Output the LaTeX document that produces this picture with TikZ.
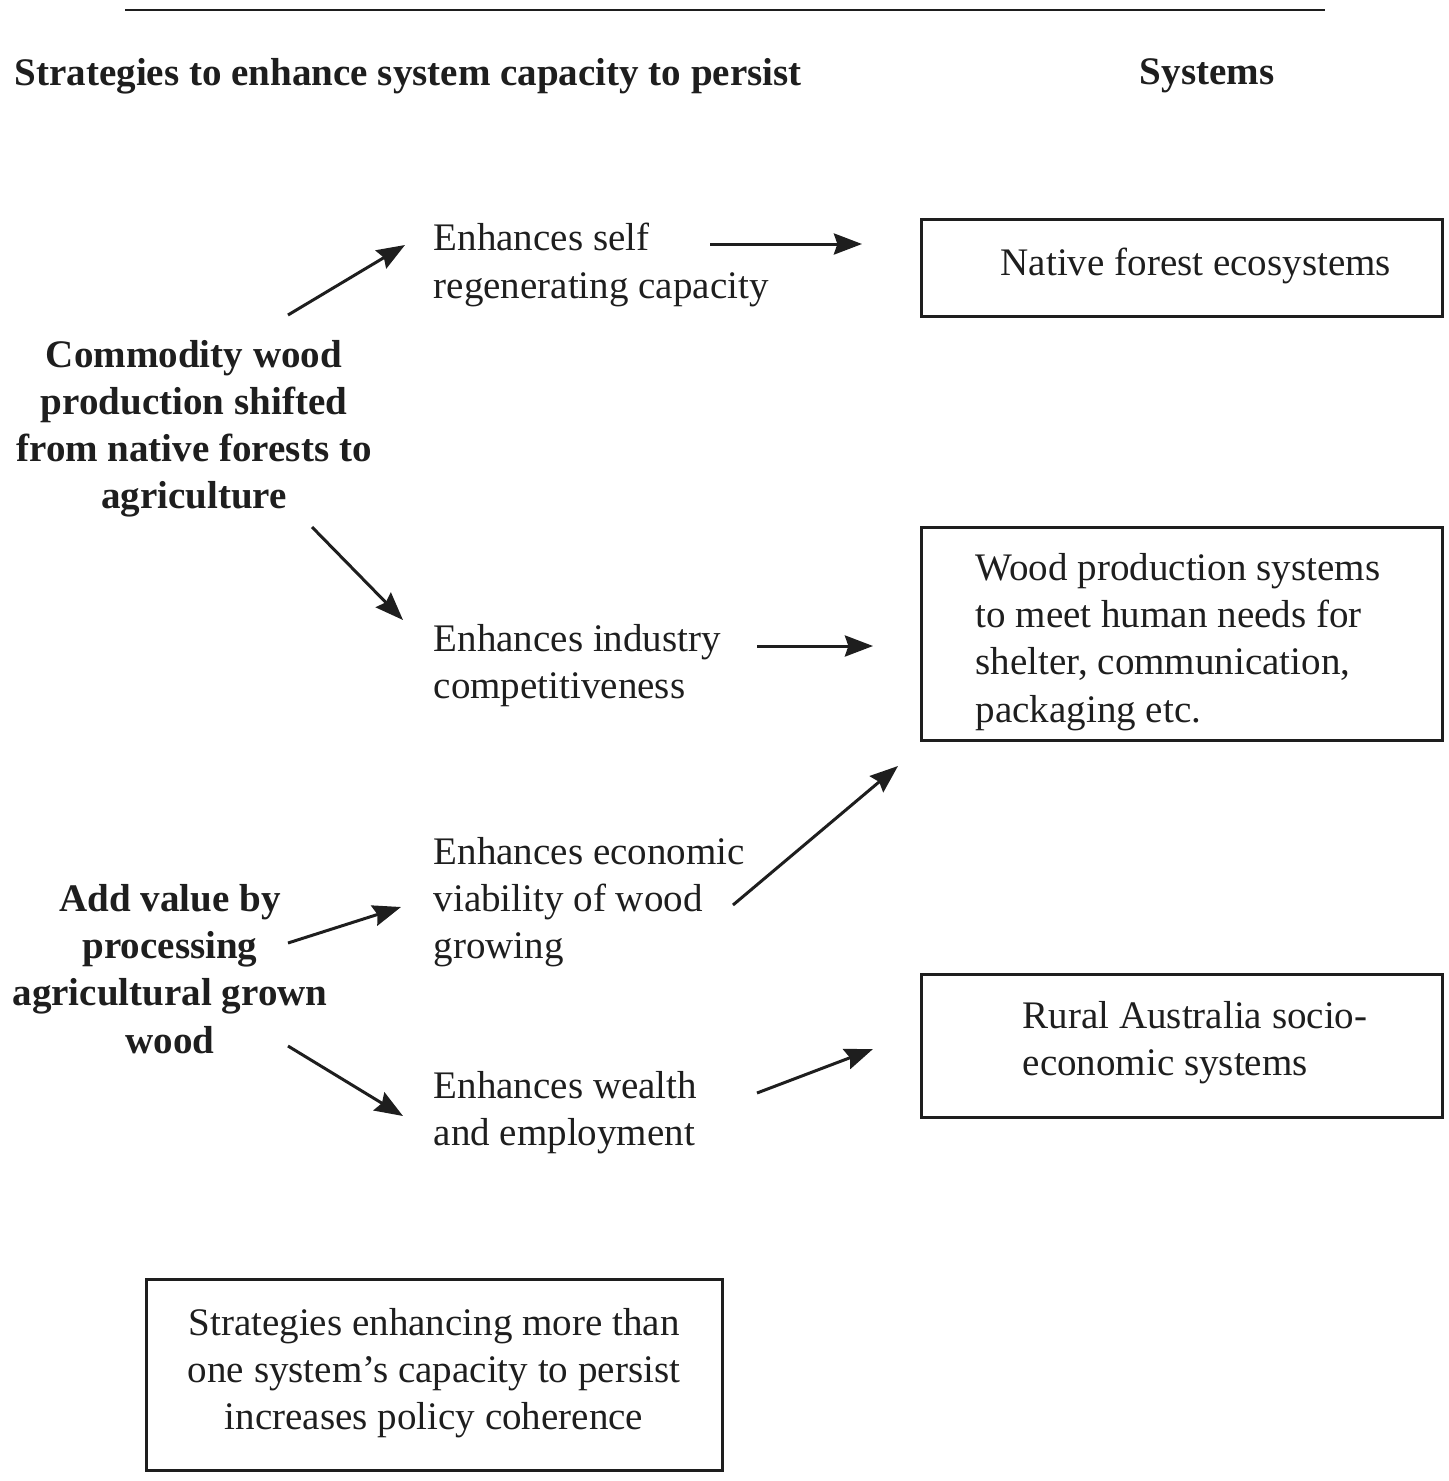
\documentclass[tikz,border=0pt]{standalone}
\usepackage{fontspec}
\setmainfont{Liberation Serif}
\usetikzlibrary{arrows.meta}
\definecolor{ink}{HTML}{1E1E1E}
\begin{document}
\begin{tikzpicture}[x=0.01cm,y=-0.01cm,
  every node/.style={font=\fontsize{11.1pt}{13.4pt}\selectfont, inner sep=0pt, text=ink},
  txt/.style={align=left, anchor=west},
  strat/.style={align=center, font=\fontsize{11.1pt}{13.4pt}\selectfont\bfseries},
  sysbox/.style={draw=ink, line width=0.85pt, minimum width=5.2cm},
  arr/.style={draw=ink, line width=0.85pt, -{Stealth[length=8pt,width=6pt,inset=1pt]}}]
\useasboundingbox (0,0) rectangle (1449,1481);
\draw[ink, line width=0.7pt] (125,10) -- (1325,10);
\node[anchor=west, font=\fontsize{11.1pt}{13.4pt}\selectfont\bfseries] (hd1) at (14,76) {Strategies to enhance system capacity to persist};
\node[font=\fontsize{11.1pt}{13.4pt}\selectfont\bfseries] (hd2) at (1207,76) {Systems};

% system boxes
\node[sysbox, minimum height=0.96cm] (b1) at (1182,268) {};
\node[txt] (b1t) at (1000,266) {Native forest ecosystems};
\node[sysbox, minimum height=2.12cm] (b2) at (1182,634) {};
\node[txt] (b2t) at (975,642) {Wood production systems\\to meet human needs for\\shelter, communication,\\packaging etc.};
\node[sysbox, minimum height=1.42cm] (b3) at (1182,1046) {};
\node[txt] (b3t) at (1022,1043) {Rural Australia socio-\\economic systems};

% bottom box
\node[draw=ink, line width=0.85pt, minimum width=5.75cm, minimum height=1.9cm] (b4) at (434.5,1375) {};
\node[align=center] (b4t) at (434,1373) {Strategies enhancing more than\\one system’s capacity to persist\\increases policy coherence};

% strategies
\node[strat] (s1) at (194,429) {Commodity wood\\production shifted\\from native forests to\\agriculture};
\node[strat] (s2) at (170,969) {Add value by\\processing\\agricultural grown\\wood};

% effects
\node[txt] (t1) at (433,265) {Enhances self\\regenerating capacity};
\node[txt] (t2) at (433,666) {Enhances industry\\competitiveness};
\node[txt] (t3) at (433,902) {Enhances economic\\viability of wood\\growing};
\node[txt] (t4) at (433,1113) {Enhances wealth\\and employment};

% connector ends
\coordinate (a1s) at (288,315); \coordinate (a1e) at (405,245);
\coordinate (a2s) at (710,244); \coordinate (a2e) at (862,244);
\coordinate (a3s) at (312,527); \coordinate (a3e) at (403,620);
\coordinate (a4s) at (757,646); \coordinate (a4e) at (873,646);
\coordinate (a5s) at (288,943); \coordinate (a5e) at (401,907);
\coordinate (a6s) at (733,905); \coordinate (a6e) at (898,766);
\coordinate (a7s) at (288,1046); \coordinate (a7e) at (403,1116);
\coordinate (a8s) at (757,1093); \coordinate (a8e) at (873,1049);

\draw[arr] (a1s) -- (a1e);
\draw[arr] (a2s) -- (a2e);
\draw[arr] (a3s) -- (a3e);
\draw[arr] (a4s) -- (a4e);
\draw[arr] (a5s) -- (a5e);
\draw[arr] (a6s) -- (a6e);
\draw[arr] (a7s) -- (a7e);
\draw[arr] (a8s) -- (a8e);
\end{tikzpicture}
\end{document}
